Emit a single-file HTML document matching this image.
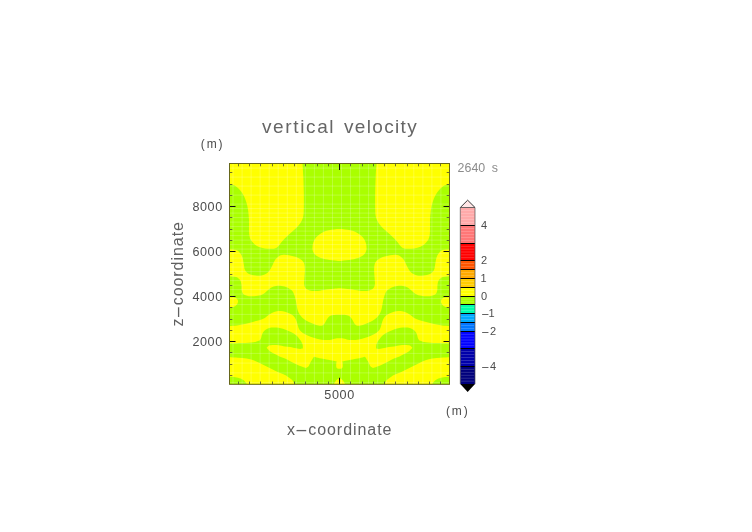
<!DOCTYPE html>
<html><head><meta charset="utf-8"><title>vertical velocity</title>
<style>
html,body{margin:0;padding:0;background:#fff;}
svg{display:block;font-family:"Liberation Sans",sans-serif;}
</style></head><body>
<svg width="752" height="532" viewBox="0 0 752 532">
<rect width="752" height="532" fill="#fff"/>
<rect x="229.5" y="163.5" width="220.0" height="220.8" fill="#aaff00"/>
<path d="M229.5 163.5L302.5 163.5C302.6 165.6 303.1 171.2 303.3 176.0C303.5 180.8 303.7 186.7 303.8 192.0C303.9 197.3 303.9 204.0 303.8 208.0C303.7 212.0 303.7 213.9 303.3 216.0C302.9 218.1 302.5 219.1 301.7 220.7C300.9 222.3 299.8 223.9 298.5 225.5C297.2 227.1 295.3 228.8 293.7 230.3C292.1 231.8 290.4 233.1 288.9 234.5C287.4 235.9 285.8 237.5 284.5 238.8C283.2 240.1 282.1 241.4 281.2 242.5C280.3 243.6 279.9 244.6 279.0 245.5C278.1 246.4 277.4 247.3 276.1 247.9C274.8 248.5 273.2 248.7 271.3 248.8C269.4 248.9 267.0 248.7 264.9 248.4C262.8 248.1 260.4 247.6 258.5 246.8C256.6 246.0 255.1 244.8 253.8 243.6C252.5 242.4 251.3 241.1 250.6 239.6C249.8 238.1 249.6 236.4 249.3 234.8C249.0 233.2 249.1 232.3 249.0 230.0C248.9 227.7 249.1 223.8 249.0 220.7C248.9 217.5 248.6 214.0 248.2 211.1C247.8 208.2 247.4 205.8 246.6 203.1C245.8 200.4 244.6 197.3 243.4 195.1C242.2 192.8 240.9 191.2 239.4 189.6C237.9 188.0 236.2 186.5 234.6 185.6C232.9 184.7 230.3 184.3 229.5 184.0ZM449.5 163.5L376.5 163.5C376.4 165.6 375.9 171.2 375.7 176.0C375.5 180.8 375.3 186.7 375.2 192.0C375.1 197.3 375.1 204.0 375.2 208.0C375.3 212.0 375.3 213.9 375.7 216.0C376.1 218.1 376.5 219.1 377.3 220.7C378.1 222.3 379.2 223.9 380.5 225.5C381.8 227.1 383.7 228.8 385.3 230.3C386.9 231.8 388.6 233.1 390.1 234.5C391.6 235.9 393.2 237.5 394.5 238.8C395.8 240.1 396.9 241.4 397.8 242.5C398.7 243.6 399.1 244.6 400.0 245.5C400.9 246.4 401.6 247.3 402.9 247.9C404.2 248.5 405.8 248.7 407.7 248.8C409.6 248.9 412.0 248.7 414.1 248.4C416.2 248.1 418.6 247.6 420.5 246.8C422.4 246.0 423.9 244.8 425.2 243.6C426.5 242.4 427.6 241.1 428.4 239.6C429.1 238.1 429.4 236.4 429.7 234.8C430.0 233.2 429.9 232.3 430.0 230.0C430.1 227.7 429.9 223.8 430.0 220.7C430.1 217.5 430.4 214.0 430.8 211.1C431.2 208.2 431.6 205.8 432.4 203.1C433.2 200.4 434.4 197.3 435.6 195.1C436.8 192.8 438.1 191.2 439.6 189.6C441.1 188.0 442.8 186.5 444.4 185.6C446.0 184.7 448.6 184.3 449.5 184.0ZM339.5 229.0C335.9 229.0 331.9 229.6 328.8 230.3C325.7 231.0 322.9 232.2 320.8 233.4C318.7 234.6 317.3 235.9 316.0 237.5C314.7 239.1 313.8 240.9 313.2 242.8C312.6 244.8 312.3 247.3 312.5 249.2C312.7 251.1 313.4 252.7 314.5 254.0C315.6 255.3 317.1 256.3 319.2 257.2C321.3 258.1 324.3 259.0 327.2 259.6C330.1 260.2 334.8 260.5 336.8 260.7C338.9 260.9 338.6 261.0 339.5 261.0C340.4 261.0 340.1 260.9 342.2 260.7C344.2 260.5 348.9 260.2 351.8 259.6C354.7 259.0 357.7 258.1 359.8 257.2C361.9 256.3 363.4 255.3 364.5 254.0C365.6 252.7 366.3 251.1 366.5 249.2C366.7 247.3 366.4 244.8 365.8 242.8C365.2 240.9 364.3 239.1 363.0 237.5C361.7 235.9 360.3 234.6 358.2 233.4C356.1 232.2 353.3 231.0 350.2 230.3C347.1 229.6 343.1 229.0 339.5 229.0ZM229.5 249.4C230.6 249.5 234.4 249.3 236.2 249.9C238.0 250.5 239.1 251.8 240.2 253.2C241.3 254.5 242.0 256.1 242.6 258.0C243.2 259.9 243.4 262.3 243.8 264.3C244.2 266.3 244.1 268.4 245.0 270.0C245.9 271.6 247.3 273.0 249.0 273.9C250.7 274.8 253.3 275.2 255.4 275.5C257.5 275.8 259.7 275.9 261.7 275.5C263.7 275.1 265.8 274.2 267.3 273.1C268.8 272.0 269.6 270.6 270.5 269.1C271.4 267.6 272.1 265.9 272.9 264.3C273.7 262.7 274.4 260.9 275.3 259.6C276.2 258.3 277.2 257.2 278.5 256.4C279.8 255.6 281.6 255.0 283.3 254.8C285.0 254.6 286.9 254.9 288.9 255.2C290.9 255.5 293.3 256.1 295.3 256.8C297.3 257.5 299.4 258.5 300.9 259.6C302.4 260.7 303.4 261.8 304.1 263.5C304.8 265.2 304.8 267.6 304.9 270.0C304.9 272.4 304.5 275.5 304.4 277.9C304.3 280.3 303.9 282.6 304.1 284.3C304.3 286.0 304.8 287.3 305.7 288.3C306.6 289.3 308.0 289.9 309.7 290.4C311.4 290.8 313.6 291.1 316.0 291.0C318.4 290.9 321.1 290.3 324.0 289.9C326.9 289.5 331.0 289.1 333.6 288.8C336.2 288.5 337.5 288.3 339.5 288.3C341.5 288.3 342.8 288.5 345.4 288.8C348.0 289.1 352.1 289.5 355.0 289.9C357.9 290.3 360.6 290.9 363.0 291.0C365.4 291.1 367.6 290.8 369.3 290.4C371.0 289.9 372.4 289.3 373.3 288.3C374.2 287.3 374.7 286.0 374.9 284.3C375.1 282.6 374.7 280.3 374.6 277.9C374.5 275.5 374.1 272.4 374.1 270.0C374.2 267.6 374.2 265.2 374.9 263.5C375.6 261.8 376.6 260.7 378.1 259.6C379.6 258.5 381.7 257.5 383.7 256.8C385.7 256.1 388.1 255.5 390.1 255.2C392.1 254.9 394.0 254.6 395.7 254.8C397.4 255.0 399.2 255.6 400.5 256.4C401.8 257.2 402.8 258.3 403.7 259.6C404.6 260.9 405.3 262.7 406.1 264.3C406.9 265.9 407.6 267.6 408.5 269.1C409.4 270.6 410.2 272.0 411.7 273.1C413.2 274.2 415.3 275.1 417.3 275.5C419.3 275.9 421.5 275.8 423.6 275.5C425.7 275.2 428.3 274.8 430.0 273.9C431.7 273.0 433.1 271.6 434.0 270.0C434.9 268.4 434.8 266.3 435.2 264.3C435.6 262.3 435.8 259.9 436.4 258.0C437.0 256.1 437.7 254.5 438.8 253.2C439.9 251.8 441.0 250.5 442.8 249.9C444.6 249.3 448.4 249.5 449.5 249.4L449.5 276.3C448.4 276.4 444.6 276.4 442.8 277.1C441.0 277.8 439.7 279.0 438.8 280.3C437.9 281.6 437.8 283.4 437.5 285.1C437.2 286.8 437.6 289.1 437.2 290.7C436.8 292.3 436.3 293.8 434.8 294.7C433.3 295.6 430.6 296.1 428.4 296.3C426.1 296.5 423.4 296.2 421.3 295.8C419.2 295.4 417.3 294.8 415.7 293.9C414.1 293.0 413.0 291.8 411.7 290.7C410.4 289.6 409.2 288.3 407.7 287.5C406.2 286.7 404.6 286.2 402.9 285.9C401.2 285.6 399.2 285.6 397.3 285.9C395.4 286.2 393.4 286.7 391.7 287.5C390.0 288.3 388.1 289.4 386.9 290.7C385.7 292.0 385.1 293.9 384.5 295.5C383.9 297.1 383.6 298.9 383.2 300.5C382.8 302.1 382.7 303.2 382.4 304.8C382.1 306.4 381.8 308.7 381.2 310.4C380.6 312.1 379.9 313.7 378.8 315.2C377.7 316.7 376.2 318.1 374.8 319.2C373.4 320.3 371.7 321.1 370.1 321.9C368.5 322.7 366.9 323.3 365.3 323.9C363.7 324.5 362.0 325.2 360.5 325.5C359.0 325.8 357.6 325.8 356.5 325.4C355.4 325.0 354.8 324.0 354.1 323.1C353.4 322.2 353.2 321.1 352.5 320.0C351.8 318.9 351.0 317.6 350.1 316.8C349.2 316.0 348.2 315.5 346.9 315.2C345.6 314.9 343.3 314.9 342.1 314.8C340.9 314.7 340.4 314.8 339.5 314.8C338.6 314.8 338.1 314.7 336.9 314.8C335.7 314.9 333.4 314.9 332.1 315.2C330.8 315.5 329.8 316.0 328.9 316.8C328.0 317.6 327.2 318.9 326.5 320.0C325.8 321.1 325.6 322.2 324.9 323.1C324.2 324.0 323.6 325.0 322.5 325.4C321.4 325.8 320.0 325.8 318.5 325.5C317.0 325.2 315.3 324.5 313.7 323.9C312.1 323.3 310.5 322.7 308.9 321.9C307.3 321.1 305.6 320.3 304.2 319.2C302.8 318.1 301.3 316.7 300.2 315.2C299.1 313.7 298.4 312.1 297.8 310.4C297.2 308.7 296.9 306.4 296.6 304.8C296.3 303.2 296.2 302.1 295.8 300.5C295.4 298.9 295.1 297.1 294.5 295.5C293.9 293.9 293.3 292.0 292.1 290.7C290.9 289.4 289.0 288.3 287.3 287.5C285.6 286.7 283.6 286.2 281.7 285.9C279.8 285.6 277.8 285.6 276.1 285.9C274.4 286.2 272.8 286.7 271.3 287.5C269.8 288.3 268.6 289.6 267.3 290.7C266.0 291.8 264.9 293.0 263.3 293.9C261.7 294.8 259.8 295.4 257.7 295.8C255.6 296.2 252.8 296.5 250.6 296.3C248.3 296.1 245.7 295.6 244.2 294.7C242.7 293.8 242.2 292.3 241.8 290.7C241.4 289.1 241.8 286.8 241.5 285.1C241.2 283.4 241.1 281.6 240.2 280.3C239.3 279.0 238.0 277.8 236.2 277.1C234.4 276.4 230.6 276.4 229.5 276.3ZM229.5 297.1C230.3 297.2 233.3 297.0 234.6 297.4C235.9 297.8 237.0 298.6 237.5 299.5C238.0 300.4 238.2 301.6 237.8 302.7C237.5 303.8 236.5 305.1 235.4 305.9C234.3 306.7 232.4 307.2 231.4 307.5C230.4 307.8 229.8 307.8 229.5 307.8ZM449.5 297.1C448.6 297.2 445.7 297.0 444.4 297.4C443.1 297.8 442.0 298.6 441.5 299.5C441.0 300.4 440.8 301.6 441.2 302.7C441.6 303.8 442.5 305.1 443.6 305.9C444.7 306.7 446.6 307.2 447.6 307.5C448.6 307.8 449.2 307.8 449.5 307.8ZM229.5 325.9C230.8 325.8 234.4 325.7 237.0 325.4C239.6 325.1 242.3 324.5 245.0 323.9C247.7 323.3 250.4 322.5 252.9 321.9C255.4 321.2 258.1 320.6 260.1 320.0C262.1 319.4 263.4 318.9 264.9 318.0C266.4 317.1 267.6 315.7 268.9 314.8C270.2 313.9 271.6 313.0 272.9 312.4C274.2 311.8 275.6 311.4 276.9 311.2C278.2 311.0 279.5 310.9 280.9 311.0C282.2 311.1 283.6 311.3 285.0 311.7C286.4 312.1 287.7 312.5 289.0 313.2C290.3 313.9 291.9 314.6 293.0 315.6C294.1 316.6 295.1 317.8 295.8 319.2C296.5 320.6 296.9 322.4 297.4 323.9C297.9 325.3 298.0 326.6 298.6 327.9C299.2 329.2 299.9 330.4 301.0 331.5C302.1 332.6 303.4 333.4 305.0 334.3C306.6 335.2 308.5 336.0 310.5 336.7C312.5 337.4 314.8 338.2 316.9 338.7C319.0 339.2 321.2 339.7 323.3 339.9C325.4 340.1 327.8 340.1 329.7 339.9C331.6 339.7 332.9 339.0 334.5 338.7C336.1 338.4 337.8 338.3 339.5 338.3C341.2 338.3 342.9 338.4 344.5 338.7C346.1 339.0 347.4 339.7 349.3 339.9C351.2 340.1 353.6 340.1 355.7 339.9C357.8 339.7 360.0 339.2 362.1 338.7C364.2 338.2 366.5 337.4 368.5 336.7C370.5 336.0 372.4 335.2 374.0 334.3C375.6 333.4 376.9 332.6 378.0 331.5C379.1 330.4 379.8 329.2 380.4 327.9C381.0 326.6 381.1 325.3 381.6 323.9C382.1 322.4 382.5 320.6 383.2 319.2C383.9 317.8 384.9 316.6 386.0 315.6C387.1 314.6 388.7 313.9 390.0 313.2C391.3 312.5 392.6 312.1 394.0 311.7C395.4 311.3 396.8 311.1 398.1 311.0C399.5 310.9 400.8 311.0 402.1 311.2C403.4 311.4 404.8 311.8 406.1 312.4C407.4 313.0 408.8 313.9 410.1 314.8C411.4 315.7 412.6 317.1 414.1 318.0C415.6 318.9 416.9 319.4 418.9 320.0C420.9 320.6 423.6 321.2 426.1 321.9C428.6 322.5 431.4 323.3 434.0 323.9C436.6 324.5 439.4 325.1 442.0 325.4C444.6 325.7 448.2 325.8 449.5 325.9L449.5 343.3C447.4 343.2 440.7 343.2 436.7 343.0C432.7 342.8 428.1 342.5 425.5 342.2C422.9 341.9 422.1 341.4 421.0 341.0C419.9 340.6 419.4 340.5 418.9 339.9C418.3 339.3 418.0 338.4 417.7 337.5C417.4 336.6 417.4 335.4 416.9 334.3C416.4 333.2 415.8 332.0 414.9 331.1C414.0 330.2 412.9 329.3 411.7 328.7C410.5 328.1 409.2 327.7 407.7 327.5C406.2 327.3 404.5 327.4 402.9 327.5C401.3 327.6 399.6 328.0 398.1 328.3C396.6 328.6 395.5 329.0 394.0 329.5C392.5 330.0 390.7 330.8 389.2 331.5C387.7 332.2 386.4 332.8 385.2 333.5C384.0 334.2 382.9 335.1 382.0 335.9C381.1 336.7 380.6 337.7 380.0 338.5C379.4 339.3 379.0 339.5 378.4 340.5C377.8 341.5 376.8 343.2 376.4 344.5C376.0 345.8 376.2 347.6 376.1 348.2C376.5 348.3 377.5 348.9 378.6 348.9C379.7 348.9 381.1 348.5 382.8 348.2C384.5 347.9 386.9 347.2 388.8 346.9C390.7 346.6 392.1 346.7 394.0 346.4C395.9 346.1 398.5 345.4 400.4 345.2C402.3 345.0 404.0 344.9 405.6 345.0C407.2 345.1 408.8 345.1 409.9 345.6C411.0 346.1 412.0 347.4 412.4 347.8C411.8 348.4 410.4 350.2 409.1 351.2C407.8 352.2 406.3 352.9 404.7 353.8C403.1 354.7 401.3 355.6 399.5 356.4C397.7 357.2 395.8 357.8 394.0 358.6C392.2 359.4 390.7 360.3 388.8 361.2C386.9 362.1 384.8 363.3 382.8 364.2C380.8 365.1 378.3 366.2 376.7 366.8C375.1 367.4 373.7 367.8 373.1 368.0C372.6 367.6 371.0 367.0 370.2 365.9C369.4 364.8 368.8 362.9 368.1 361.6C367.4 360.3 366.4 358.7 365.9 357.9C365.3 357.1 365.0 356.9 364.8 356.7C363.9 356.9 361.4 357.8 359.4 358.2C357.3 358.6 354.8 359.0 352.5 359.4C350.2 359.8 347.3 360.4 345.6 360.7C343.9 361.0 342.9 361.2 342.4 361.3C342.4 361.6 342.6 362.4 342.7 363.3C342.8 364.2 342.9 366.1 342.7 367.0C342.5 367.9 342.1 368.1 341.6 368.4C341.1 368.7 340.2 368.7 339.5 368.7C338.8 368.7 337.9 368.7 337.4 368.4C336.9 368.1 336.5 367.9 336.3 367.0C336.1 366.1 336.2 364.2 336.3 363.3C336.4 362.4 336.6 361.6 336.6 361.3C336.1 361.2 335.1 361.0 333.4 360.7C331.7 360.4 328.8 359.8 326.5 359.4C324.2 359.0 321.7 358.6 319.6 358.2C317.6 357.8 315.1 356.9 314.2 356.7C314.0 356.9 313.7 357.1 313.1 357.9C312.6 358.7 311.6 360.3 310.9 361.6C310.2 362.9 309.6 364.8 308.8 365.9C308.0 367.0 306.4 367.6 305.9 368.0C305.3 367.8 303.9 367.4 302.3 366.8C300.7 366.2 298.2 365.1 296.2 364.2C294.2 363.3 292.1 362.1 290.2 361.2C288.3 360.3 286.8 359.4 285.0 358.6C283.2 357.8 281.3 357.2 279.5 356.4C277.7 355.6 275.9 354.7 274.3 353.8C272.7 352.9 271.2 352.2 269.9 351.2C268.6 350.2 267.2 348.4 266.6 347.8C267.0 347.4 268.0 346.1 269.1 345.6C270.2 345.1 271.8 345.1 273.4 345.0C275.0 344.9 276.7 345.0 278.6 345.2C280.5 345.4 283.1 346.1 285.0 346.4C286.9 346.7 288.3 346.6 290.2 346.9C292.1 347.2 294.5 347.9 296.2 348.2C297.9 348.5 299.3 348.9 300.4 348.9C301.5 348.9 302.5 348.3 302.9 348.2C302.8 347.6 303.0 345.8 302.6 344.5C302.2 343.2 301.2 341.5 300.6 340.5C300.0 339.5 299.6 339.3 299.0 338.5C298.4 337.7 297.9 336.7 297.0 335.9C296.1 335.1 295.0 334.2 293.8 333.5C292.6 332.8 291.3 332.2 289.8 331.5C288.3 330.8 286.5 330.0 285.0 329.5C283.5 329.0 282.4 328.6 280.9 328.3C279.4 328.0 277.7 327.6 276.1 327.5C274.5 327.4 272.8 327.3 271.3 327.5C269.8 327.7 268.5 328.1 267.3 328.7C266.1 329.3 265.0 330.2 264.1 331.1C263.2 332.0 262.6 333.2 262.1 334.3C261.6 335.4 261.6 336.6 261.3 337.5C261.0 338.4 260.7 339.3 260.1 339.9C259.6 340.5 259.1 340.6 258.0 341.0C256.9 341.4 256.1 341.9 253.5 342.2C250.9 342.5 246.3 342.8 242.3 343.0C238.3 343.2 231.6 343.2 229.5 343.3ZM229.5 357.3C230.9 357.4 235.2 357.5 238.0 357.7C240.8 357.9 244.0 358.2 246.6 358.6C249.2 359.0 251.3 359.6 253.5 360.3C255.7 361.0 257.6 362.0 259.6 362.9C261.6 363.8 263.6 364.9 265.6 365.9C267.6 366.9 269.7 368.0 271.7 369.0C273.7 370.0 275.5 371.0 277.7 372.0C279.9 373.0 283.2 374.1 285.0 375.0C286.8 375.9 287.4 376.4 288.5 377.2C289.6 378.0 291.0 378.9 291.9 379.8C292.8 380.7 293.2 381.6 293.6 382.4C294.0 383.1 294.0 384.0 294.1 384.3L247.0 384.3C246.9 384.1 246.7 383.8 246.2 383.2C245.7 382.6 244.9 381.4 244.0 380.6C243.1 379.8 242.0 379.1 240.6 378.5C239.2 377.9 237.2 377.5 235.4 377.2C233.6 376.9 230.5 376.8 229.5 376.7ZM449.5 357.3C448.1 357.4 443.9 357.5 441.0 357.7C438.1 357.9 435.0 358.2 432.4 358.6C429.8 359.0 427.7 359.6 425.5 360.3C423.3 361.0 421.4 362.0 419.4 362.9C417.4 363.8 415.4 364.9 413.4 365.9C411.4 366.9 409.3 368.0 407.3 369.0C405.3 370.0 403.5 371.0 401.3 372.0C399.1 373.0 395.8 374.1 394.0 375.0C392.2 375.9 391.6 376.4 390.5 377.2C389.4 378.0 388.0 378.9 387.1 379.8C386.2 380.7 385.8 381.6 385.4 382.4C385.0 383.1 385.0 384.0 384.9 384.3L432.0 384.3C432.1 384.1 432.3 383.8 432.8 383.2C433.3 382.6 434.1 381.4 435.0 380.6C435.9 379.8 437.0 379.1 438.4 378.5C439.8 377.9 441.8 377.5 443.6 377.2C445.5 376.9 448.5 376.8 449.5 376.7ZM333.8 384.3C334.2 383.7 335.4 381.5 336.0 380.6C336.6 379.7 337.1 379.2 337.7 378.9C338.3 378.6 338.9 378.6 339.5 378.6C340.1 378.6 340.7 378.6 341.3 378.9C341.9 379.2 342.4 379.7 343.0 380.6C343.6 381.5 344.8 383.7 345.2 384.3Z" fill="#ffff00"/>
<path d="M233.0 163.5V384.3M242.1 163.5V384.3M251.1 163.5V384.3M260.1 163.5V384.3M269.2 163.5V384.3M278.2 163.5V384.3M287.3 163.5V384.3M296.3 163.5V384.3M305.3 163.5V384.3M314.4 163.5V384.3M323.4 163.5V384.3M332.5 163.5V384.3M341.5 163.5V384.3M350.5 163.5V384.3M359.6 163.5V384.3M368.6 163.5V384.3M377.7 163.5V384.3M386.7 163.5V384.3M395.7 163.5V384.3M404.8 163.5V384.3M413.8 163.5V384.3M422.9 163.5V384.3M431.9 163.5V384.3M440.9 163.5V384.3M229.5 168.1H449.5M229.5 177.1H449.5M229.5 186.1H449.5M229.5 195.1H449.5M229.5 204.1H449.5M229.5 208.6H449.5M229.5 213.1H449.5M229.5 217.6H449.5M229.5 222.1H449.5M229.5 226.6H449.5M229.5 231.1H449.5M229.5 235.6H449.5M229.5 240.1H449.5M229.5 244.6H449.5M229.5 249.1H449.5M229.5 253.6H449.5M229.5 258.1H449.5M229.5 262.6H449.5M229.5 267.1H449.5M229.5 271.6H449.5M229.5 276.1H449.5M229.5 280.6H449.5M229.5 285.1H449.5M229.5 289.6H449.5M229.5 294.1H449.5M229.5 298.6H449.5M229.5 304.6H449.5M229.5 314.4H449.5M229.5 324.1H449.5M229.5 333.9H449.5M229.5 343.6H449.5M229.5 353.4H449.5M229.5 363.1H449.5M229.5 372.9H449.5M229.5 382.6H449.5" stroke="#fff" stroke-opacity="0.3" stroke-width="0.7" fill="none"/>
<path d="M238.50 384.3v-2.8M238.50 163.5v2.8M249.50 384.3v-2.8M249.50 163.5v2.8M260.50 384.3v-2.8M260.50 163.5v2.8M272.50 384.3v-2.8M272.50 163.5v2.8M283.50 384.3v-2.8M283.50 163.5v2.8M294.50 384.3v-2.8M294.50 163.5v2.8M305.50 384.3v-2.8M305.50 163.5v2.8M317.50 384.3v-2.8M317.50 163.5v2.8M328.50 384.3v-2.8M328.50 163.5v2.8M350.50 384.3v-2.8M350.50 163.5v2.8M362.50 384.3v-2.8M362.50 163.5v2.8M373.50 384.3v-2.8M373.50 163.5v2.8M384.50 384.3v-2.8M384.50 163.5v2.8M395.50 384.3v-2.8M395.50 163.5v2.8M407.50 384.3v-2.8M407.50 163.5v2.8M418.50 384.3v-2.8M418.50 163.5v2.8M429.50 384.3v-2.8M429.50 163.5v2.8M440.50 384.3v-2.8M440.50 163.5v2.8M229.5 375.50h2.8M449.5 375.50h-2.8M229.5 364.50h2.8M449.5 364.50h-2.8M229.5 352.50h2.8M449.5 352.50h-2.8M229.5 330.50h2.8M449.5 330.50h-2.8M229.5 319.50h2.8M449.5 319.50h-2.8M229.5 307.50h2.8M449.5 307.50h-2.8M229.5 285.50h2.8M449.5 285.50h-2.8M229.5 274.50h2.8M449.5 274.50h-2.8M229.5 262.50h2.8M449.5 262.50h-2.8M229.5 240.50h2.8M449.5 240.50h-2.8M229.5 229.50h2.8M449.5 229.50h-2.8M229.5 217.50h2.8M449.5 217.50h-2.8M229.5 195.50h2.8M449.5 195.50h-2.8M229.5 184.50h2.8M449.5 184.50h-2.8M229.5 172.50h2.8M449.5 172.50h-2.8" stroke="#333" stroke-width="0.7" fill="none"/>
<path d="M339.50 384.3v-6.5M339.50 163.5v6.5M229.5 341.50h6.0M449.5 341.50h-6.0M229.5 296.50h6.0M449.5 296.50h-6.0M229.5 251.50h6.0M449.5 251.50h-6.0M229.5 206.50h6.0M449.5 206.50h-6.0" stroke="#111" stroke-width="1" fill="none"/>
<rect x="229.5" y="163.5" width="220.0" height="220.8" fill="none" stroke="#66661a" stroke-width="1"/>
<rect x="460.3" y="366.50" width="14.7" height="17.60" fill="#00007c"/><rect x="460.3" y="348.50" width="14.7" height="18.00" fill="#0000aa"/><rect x="460.3" y="331.50" width="14.7" height="17.00" fill="#0000ff"/><rect x="460.3" y="322.50" width="14.7" height="9.00" fill="#0077ff"/><rect x="460.3" y="313.50" width="14.7" height="9.00" fill="#00aaff"/><rect x="460.3" y="304.50" width="14.7" height="9.00" fill="#00ffaa"/><rect x="460.3" y="296.50" width="14.7" height="8.00" fill="#aaff00"/><rect x="460.3" y="287.50" width="14.7" height="9.00" fill="#ffff00"/><rect x="460.3" y="278.50" width="14.7" height="9.00" fill="#ffcc00"/><rect x="460.3" y="269.50" width="14.7" height="9.00" fill="#ffaa00"/><rect x="460.3" y="260.50" width="14.7" height="9.00" fill="#ff5500"/><rect x="460.3" y="243.50" width="14.7" height="17.00" fill="#ff0000"/><rect x="460.3" y="225.50" width="14.7" height="18.00" fill="#ff7777"/><rect x="460.3" y="207.50" width="14.7" height="18.00" fill="#ffaaaa"/>
<path d="M461.1 369.43H474.2M461.1 372.37H474.2M461.1 375.30H474.2M461.1 378.23H474.2M461.1 381.17H474.2M461.1 351.50H474.2M461.1 354.50H474.2M461.1 357.50H474.2M461.1 360.50H474.2M461.1 363.50H474.2M461.1 334.33H474.2M461.1 337.17H474.2M461.1 340.00H474.2M461.1 342.83H474.2M461.1 345.67H474.2M461.1 325.50H474.2M461.1 328.50H474.2M461.1 316.50H474.2M461.1 319.50H474.2M461.1 307.50H474.2M461.1 310.50H474.2M461.1 299.17H474.2M461.1 301.83H474.2M461.1 290.50H474.2M461.1 293.50H474.2M461.1 281.50H474.2M461.1 284.50H474.2M461.1 272.50H474.2M461.1 275.50H474.2M461.1 263.50H474.2M461.1 266.50H474.2M461.1 246.33H474.2M461.1 249.17H474.2M461.1 252.00H474.2M461.1 254.83H474.2M461.1 257.67H474.2M461.1 228.50H474.2M461.1 231.50H474.2M461.1 234.50H474.2M461.1 237.50H474.2M461.1 240.50H474.2M461.1 210.50H474.2M461.1 213.50H474.2M461.1 216.50H474.2M461.1 219.50H474.2M461.1 222.50H474.2" stroke="#fff" stroke-opacity="0.22" stroke-width="0.8" fill="none"/>
<path d="M460.3 366.50H475.0M460.3 348.50H475.0M460.3 331.50H475.0M460.3 322.50H475.0M460.3 313.50H475.0M460.3 304.50H475.0M460.3 296.50H475.0M460.3 287.50H475.0M460.3 278.50H475.0M460.3 269.50H475.0M460.3 260.50H475.0M460.3 243.50H475.0M460.3 225.50H475.0" stroke="#000" stroke-width="1" fill="none"/>
<path d="M460.3 207.5L467.65 200.2L475.0 207.5Z" fill="#ffe6e6"/>
<path d="M460.3 207.5L467.65 200.2L475.0 207.5" fill="none" stroke="#222" stroke-width="0.9"/>
<path d="M460.3 207.5H475.0" fill="none" stroke="#444" stroke-width="0.8"/>
<path d="M460.3 384.1L467.65 391.9L475.0 384.1Z" fill="#000"/>
<path d="M460.3 207.5V384.1M475.0 207.5V384.1" stroke="#555" stroke-width="0.7" fill="none"/>
<text y="132.7" font-size="19" fill="#666"><tspan x="262" textLength="71.6" lengthAdjust="spacing">vertical</tspan> <tspan x="344" textLength="72.7" lengthAdjust="spacing">velocity</tspan></text>
<text x="200.8" y="147.8" font-size="12.0" text-anchor="start" fill="#4c4c4c" textLength="21.7" lengthAdjust="spacing">(m)</text>
<text x="446.0" y="414.7" font-size="12.0" text-anchor="start" fill="#4c4c4c" textLength="21.7" lengthAdjust="spacing">(m)</text>
<text y="171.9" font-size="12.4" fill="#8c8c8c"><tspan x="457.6" textLength="27.6" lengthAdjust="spacing">2640</tspan> <tspan x="491.7">s</tspan></text>
<text x="192.4" y="211.0" font-size="12.6" text-anchor="start" fill="#4c4c4c" textLength="29.8" lengthAdjust="spacing">8000</text>
<text x="192.4" y="256.0" font-size="12.6" text-anchor="start" fill="#4c4c4c" textLength="29.8" lengthAdjust="spacing">6000</text>
<text x="192.4" y="301.0" font-size="12.6" text-anchor="start" fill="#4c4c4c" textLength="29.8" lengthAdjust="spacing">4000</text>
<text x="192.4" y="346.0" font-size="12.6" text-anchor="start" fill="#4c4c4c" textLength="29.8" lengthAdjust="spacing">2000</text>
<text x="324.3" y="399.2" font-size="12.6" text-anchor="start" fill="#4c4c4c" textLength="29.9" lengthAdjust="spacing">5000</text>
<text y="435.1" font-size="16" fill="#606060"><tspan x="287">x</tspan><tspan x="294.7" textLength="13.2" lengthAdjust="spacingAndGlyphs">-</tspan><tspan x="308.2" textLength="83.3" lengthAdjust="spacing">coordinate</tspan></text>
<text transform="translate(182.8,326.5) rotate(-90)" font-size="16" fill="#606060"><tspan x="0">z</tspan><tspan x="7.7" textLength="13.2" lengthAdjust="spacingAndGlyphs">-</tspan><tspan x="21.2" textLength="83.3" lengthAdjust="spacing">coordinate</tspan></text>
<text x="481.0" y="229.1" font-size="11.0" text-anchor="start" fill="#4c4c4c">4</text>
<text x="481.0" y="264.1" font-size="11.0" text-anchor="start" fill="#4c4c4c">2</text>
<text x="480.6" y="282.1" font-size="11.0" text-anchor="start" fill="#4c4c4c">1</text>
<text x="481.0" y="299.5" font-size="11.0" text-anchor="start" fill="#4c4c4c">0</text>
<text y="317.1" font-size="11" fill="#4c4c4c"><tspan x="480.9" textLength="8.6" lengthAdjust="spacingAndGlyphs">-</tspan><tspan x="488.6">1</tspan></text>
<text y="335.1" font-size="11" fill="#4c4c4c"><tspan x="480.9" textLength="8.6" lengthAdjust="spacingAndGlyphs">-</tspan><tspan x="490.0">2</tspan></text>
<text y="370.1" font-size="11" fill="#4c4c4c"><tspan x="480.9" textLength="8.6" lengthAdjust="spacingAndGlyphs">-</tspan><tspan x="490.0">4</tspan></text>
</svg>
</body></html>
